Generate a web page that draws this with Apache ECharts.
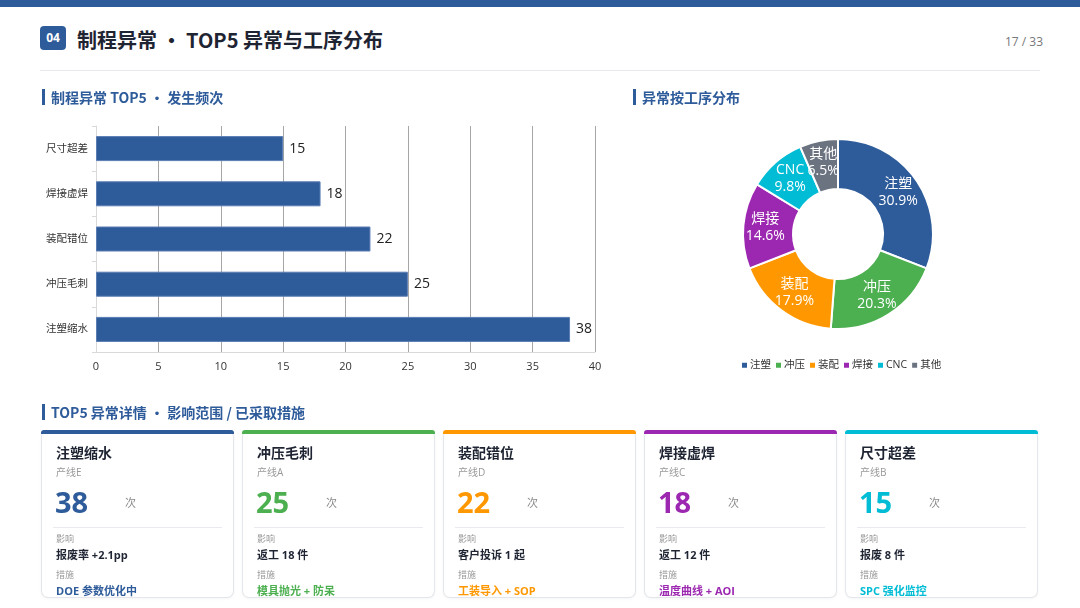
<!DOCTYPE html>
<html><head><meta charset="utf-8">
<script src="https://cdn.jsdelivr.net/npm/echarts@6/dist/echarts.min.js"></script>
<style>
html,body{margin:0;padding:0;width:1080px;height:608px;overflow:hidden;background:#fff;font-family:"Open Sans","Noto Sans CJK SC",sans-serif;}
#topbar{position:absolute;left:0;top:0;width:1080px;height:7px;background:#2E5B9A;}
#badge{position:absolute;left:40px;top:26px;width:26px;height:24px;border-radius:4px;background:#2E5B9A;color:#fff;font-size:12px;font-weight:700;text-align:center;line-height:24px;}
#title{position:absolute;left:77px;top:26px;font-size:20px;font-weight:700;color:#1f2433;line-height:28px;font-family:"Noto Sans CJK SC",sans-serif;}
#page{position:absolute;right:37px;top:33px;font-size:12px;color:#777;}
#divider{position:absolute;left:40px;top:70px;width:1000px;height:1px;background:#e5e7eb;}
.sec{position:absolute;font-size:14px;font-weight:700;color:#2E5B9A;border-left:3px solid #2E5B9A;padding-left:6px;line-height:16px;font-family:"Noto Sans CJK SC",sans-serif;}
#chart{position:absolute;left:0;top:0;width:1080px;height:608px;}
.card{position:absolute;top:430px;width:193px;height:168px;border:1px solid #e3e6ea;border-top:none;border-radius:7px;box-sizing:border-box;background:#fff;box-shadow:0 1px 3px rgba(0,0,0,0.04);}
.card .strip{position:absolute;left:-1px;right:-1px;top:0;height:4px;border-radius:3px 3px 0 0;}
.card .nm{position:absolute;left:14px;top:12px;font-size:14px;font-weight:700;color:#1f2433;font-family:"Noto Sans CJK SC",sans-serif;}
.card .ln{position:absolute;left:14px;top:34px;font-size:10px;color:#999;}
.card .num{position:absolute;left:13px;top:52px;font-size:29px;font-weight:700;line-height:40px;}
.card .unit{position:absolute;left:83px;top:64px;font-size:11px;color:#888;}
.card .hr{position:absolute;left:11px;right:11px;top:97px;height:1px;background:#e8eaee;}
.card .lab1{position:absolute;left:14px;top:102px;font-size:9px;color:#999;}
.card .val{position:absolute;left:14px;top:116px;font-size:11px;font-weight:700;color:#1f2433;}
.card .lab2{position:absolute;left:14px;top:138px;font-size:9px;color:#999;}
.card .mea{position:absolute;left:14px;top:152px;font-size:11px;font-weight:700;}
</style></head>
<body>
<div id="topbar"></div>
<div id="badge">04</div>
<div id="title">制程异常 · TOP5 异常与工序分布</div>
<div id="page">17 / 33</div>
<div id="divider"></div>
<div id="chart"></div>
<div class="sec" style="left:42px;top:89px;">制程异常 TOP5 · 发生频次</div>
<div class="sec" style="left:633px;top:89px;">异常按工序分布</div>
<div class="sec" style="left:42px;top:404px;">TOP5 异常详情 · 影响范围 / 已采取措施</div>
<div id="cards"></div>
<script>
// ---- data ----
const barCategories = ['注塑缩水','冲压毛刺','装配错位','焊接虚焊','尺寸超差'];
const barValues = [38, 25, 22, 18, 15];
const xTicks = [0, 5, 10, 15, 20, 25, 30, 35, 40];
const pieNames = ['注塑','冲压','装配','焊接','CNC','其他'];
const pieValues = [38, 25, 22, 18, 12, 8];
const cardLines = ['产线E','产线A','产线D','产线C','产线B'];
const cardImpact = ['报废率 +2.1pp','返工 18 件','客户投诉 1 起','返工 12 件','报废 8 件'];
const cardMeasure = ['DOE 参数优化中','模具抛光 + 防呆','工装导入 + SOP','温度曲线 + AOI','SPC 强化监控'];
const palette = ['#2E5B9A','#4CAF50','#FF9800','#9C27B0','#00BCD4','#6B7280'];

// ---- cards ----
const cardsEl = document.getElementById('cards');
barCategories.forEach((name, i) => {
  const c = document.createElement('div');
  c.className = 'card';
  c.style.left = (41 + i * 201) + 'px';
  const col = palette[i];
  c.innerHTML = `<div class="strip" style="background:${col}"></div>
  <div class="nm">${name}</div><div class="ln">${cardLines[i]}</div>
  <div class="num" style="color:${col}">${barValues[i]}</div><div class="unit">次</div>
  <div class="hr"></div><div class="lab1">影响</div><div class="val">${cardImpact[i]}</div>
  <div class="lab2">措施</div><div class="mea" style="color:${col}">${cardMeasure[i]}</div>`;
  cardsEl.appendChild(c);
});

// ---- chart ----
const chart = echarts.init(document.getElementById('chart'));
const ff = '"Open Sans","Noto Sans CJK SC",sans-serif';
chart.setOption({
  animation: false,
  textStyle: { fontFamily: ff },
  grid: { left: 96, top: 126, width: 499, height: 226 },
  xAxis: {
    type: 'value', min: xTicks[0], max: xTicks[xTicks.length - 1], interval: xTicks[1] - xTicks[0],
    axisLine: { show: true, lineStyle: { color: '#d9d9d9' } },
    axisTick: { show: false },
    axisLabel: { color: '#333', fontSize: 11, margin: 9 },
    splitLine: { show: true, lineStyle: { color: '#a6a6a6', width: 1 } }
  },
  yAxis: {
    type: 'category', data: barCategories,
    axisLine: { show: true, lineStyle: { color: '#d9d9d9' } },
    axisTick: { show: true, length: 4, lineStyle: { color: '#d9d9d9' } },
    axisLabel: { color: '#333', fontSize: 10.5, margin: 8 }
  },
  legend: {
    data: pieNames, top: 360, left: 740, padding: 0,
    icon: 'rect', itemWidth: 7, itemHeight: 7, itemGap: 3,
    textStyle: { color: '#333', fontSize: 10.5, padding: [0, 0, 0, -3] }
  },
  color: palette,
  series: [
    {
      type: 'bar', data: barValues, barWidth: 25,
      itemStyle: { color: '#2E5B9A', borderColor: '#5a7db3', borderWidth: 1 },
      label: { show: true, position: 'right', distance: 6, color: '#222', fontSize: 14 }
    },
    {
      type: 'pie', center: [838, 234], radius: [45, 95], startAngle: 90, clockwise: true,
      percentPrecision: 1,
      data: pieNames.map((n, i) => ({ name: n, value: pieValues[i] })),
      itemStyle: { borderColor: '#fff', borderWidth: 2 },
      label: { show: true, position: 'inside', formatter: '{b}\n{d}%', color: '#fff', fontSize: 14, lineHeight: 17 },
      labelLine: { show: false }
    }
  ]
});
</script>
</body></html>
